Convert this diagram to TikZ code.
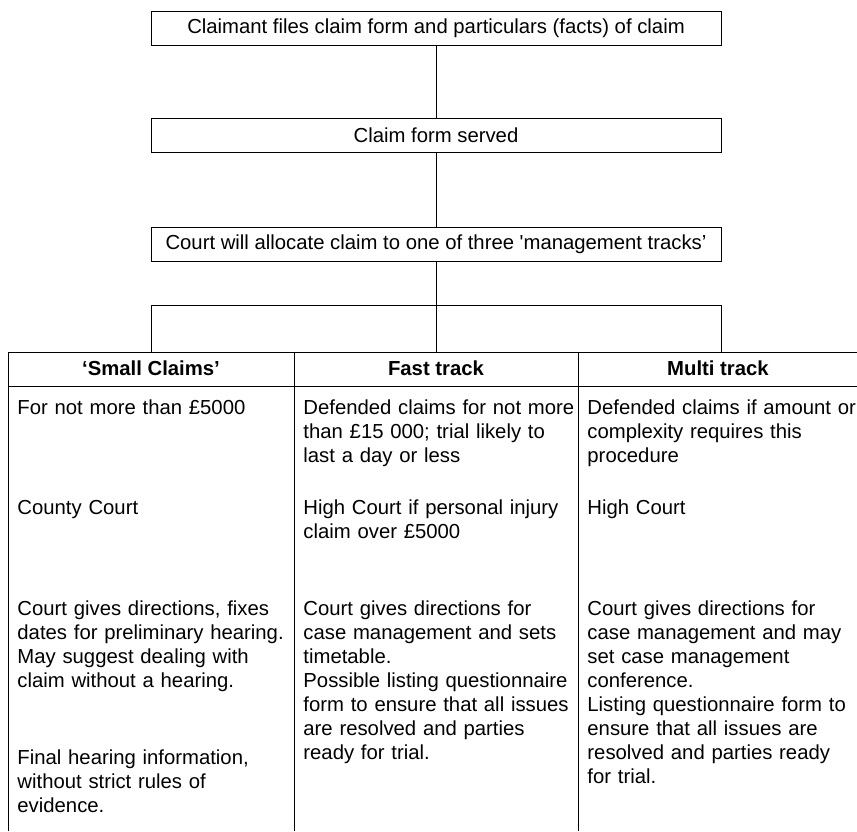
\documentclass[tikz,border=0pt]{standalone}
\usepackage{fontspec}
\setmainfont{Liberation Sans}
\begin{document}
\begin{tikzpicture}[x=1pt,y=-1pt,line width=0.9pt,
  txt/.style={font=\fontsize{20.3}{24}\selectfont},
  box/.style={txt,draw,minimum width=570pt,minimum height=34pt,inner sep=0pt},
  cell/.style={txt,anchor=base west,inner sep=0pt,text width=290pt,align=left},
  head/.style={txt,anchor=base,inner sep=0pt,font=\fontsize{20.3}{24}\selectfont\bfseries},
  grid/.style={line width=0.9pt}]
\useasboundingbox (0,0) rectangle (857,831);

% flow boxes
\node[box] (b1) at (436,28.5) {Claimant files claim form and particulars (facts) of claim};
\node[box] (b2) at (436,135) {Claim form served};
\node[box] (b3) at (436,244) {Court will allocate claim to one of three \textquotesingle management tracks’};

% branch coordinates
\coordinate (j) at (436,305);
\coordinate (jl) at (151,305);
\coordinate (jr) at (721,305);
\coordinate (t1) at (151,352);
\coordinate (t2) at (436,352);
\coordinate (t3) at (721,352);

\draw (b1.south) -- (b2.north);
\draw (b2.south) -- (b3.north);
\draw (b3.south) -- (j);
\draw (jl) -- (jr);
\draw (jl) -- (t1);
\draw (j) -- (t2);
\draw (jr) -- (t3);

% table grid
\draw[grid] (8,831) -- (8,352) -- (857,352);
\draw[grid] (8,386) -- (857,386);
\draw[grid] (294,352) -- (294,831);
\draw[grid] (578,352) -- (578,831);

% headers
\node[head] (h1) at (151,375) {‘Small Claims’};
\node[head] (h2) at (436,375) {Fast track};
\node[head] (h3) at (718,375) {Multi track};

% column 1
\node[cell] (c11) at (17,414) {For not more than £5000};
\node[cell] (c12) at (17,514) {County Court};
\node[cell] (c13) at (17,615) {Court gives directions, fixes\\dates for preliminary hearing.\\May suggest dealing with\\claim without a hearing.};
\node[cell] (c14) at (17,764) {Final hearing information,\\without strict rules of\\evidence.};

% column 2
\node[cell] (c21) at (303,414) {Defended claims for not more\\than £15~000; trial likely to\\last a day or less};
\node[cell] (c22) at (303,514) {High Court if personal injury\\claim over £5000};
\node[cell] (c23) at (303,615) {Court gives directions for\\case management and sets\\timetable.\\Possible listing questionnaire\\form to ensure that all issues\\are resolved and parties\\ready for trial.};

% column 3
\node[cell] (c31) at (587,414) {Defended claims if amount or\\complexity requires this\\procedure};
\node[cell] (c32) at (587,514) {High Court};
\node[cell] (c33) at (587,615) {Court gives directions for\\case management and may\\set case management\\conference.\\Listing questionnaire form to\\ensure that all issues are\\resolved and parties ready\\for trial.};
\end{tikzpicture}
\end{document}
